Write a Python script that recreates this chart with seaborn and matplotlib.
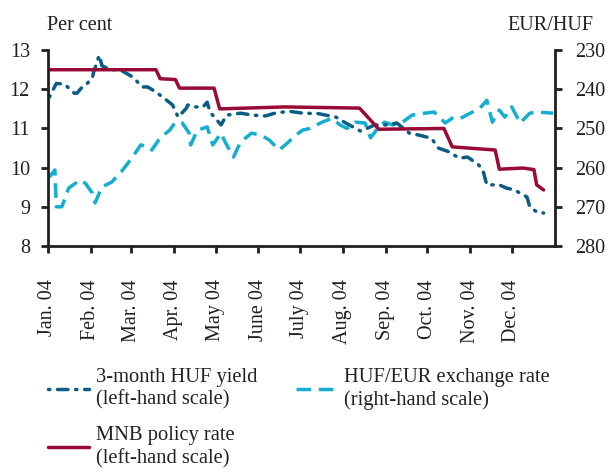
import matplotlib
matplotlib.use("Agg")
import matplotlib.pyplot as plt
import pandas as pd
import seaborn as sns
from matplotlib.lines import Line2D

# 3-month HUF yield (left-hand scale), per cent
yield_dates = [
    "2004-01-02", "2004-01-07", "2004-01-13", "2004-01-20", "2004-01-22", "2004-01-25",
    "2004-01-28", "2004-02-02", "2004-02-03", "2004-02-07", "2004-02-09", "2004-02-13",
    "2004-02-16", "2004-02-22", "2004-02-29", "2004-03-03", "2004-03-09", "2004-03-13",
    "2004-03-19", "2004-03-22", "2004-03-25", "2004-03-31", "2004-04-04", "2004-04-10",
    "2004-04-11", "2004-04-16", "2004-04-22", "2004-04-25", "2004-04-27", "2004-05-05",
    "2004-05-09", "2004-05-19", "2004-05-28", "2004-06-06", "2004-06-13", "2004-06-23",
    "2004-07-03", "2004-07-14", "2004-07-27", "2004-08-03", "2004-08-14", "2004-08-24",
    "2004-09-02", "2004-09-09", "2004-09-18", "2004-09-25", "2004-10-04", "2004-10-09",
    "2004-10-17", "2004-10-24", "2004-10-30", "2004-11-02", "2004-11-07", "2004-11-10",
    "2004-11-13", "2004-11-22", "2004-11-27", "2004-12-03", "2004-12-12", "2004-12-14",
    "2004-12-19", "2004-12-24",
]
yield_values = [
    11.80, 12.15, 12.13, 11.90, 11.90, 12.03,
    12.10, 12.29, 12.44, 12.87, 12.60, 12.54,
    12.50, 12.50, 12.36, 12.29, 12.06, 12.06,
    11.93, 11.85, 11.77, 11.60, 11.29, 11.52,
    11.60, 11.55, 11.55, 11.67, 11.42, 11.09,
    11.34, 11.39, 11.34, 11.32, 11.39, 11.44,
    11.39, 11.38, 11.29, 11.14, 10.93, 11.09,
    11.09, 11.14, 10.88, 10.83, 10.75, 10.50,
    10.40, 10.24, 10.27, 10.20, 10.07, 9.95,
    9.56, 9.56, 9.48, 9.43, 9.25, 9.00,
    8.87, 8.84,
]

# MNB policy rate (left-hand scale), per cent
policy_dates = [
    "2004-01-02", "2004-03-19", "2004-03-22", "2004-04-02", "2004-04-05", "2004-04-30",
    "2004-05-04", "2004-06-20", "2004-08-13", "2004-08-27", "2004-10-13", "2004-10-19",
    "2004-11-19", "2004-11-22", "2004-12-09", "2004-12-17", "2004-12-19", "2004-12-24",
]
policy_values = [
    12.50, 12.50, 12.27, 12.25, 12.03, 12.03,
    11.50, 11.55, 11.52, 10.98, 11.00, 10.53,
    10.45, 9.96, 9.99, 9.95, 9.56, 9.43,
]

# HUF/EUR exchange rate (right-hand scale, inverted)
fx_dates = [
    "2004-01-02", "2004-01-06", "2004-01-07", "2004-01-11", "2004-01-16", "2004-01-24",
    "2004-01-28", "2004-02-02", "2004-02-04", "2004-02-09", "2004-02-16", "2004-02-24",
    "2004-03-02", "2004-03-08", "2004-03-14", "2004-03-16", "2004-03-22", "2004-03-29",
    "2004-04-02", "2004-04-07", "2004-04-12", "2004-04-13", "2004-04-18", "2004-04-25",
    "2004-04-29", "2004-05-05", "2004-05-08", "2004-05-14", "2004-05-19", "2004-05-27",
    "2004-06-03", "2004-06-09", "2004-06-16", "2004-06-22", "2004-06-28", "2004-07-03",
    "2004-07-08", "2004-07-17", "2004-07-24", "2004-07-30", "2004-08-04", "2004-08-10",
    "2004-08-17", "2004-08-21", "2004-08-26", "2004-08-31", "2004-09-06", "2004-09-13",
    "2004-09-20", "2004-09-29", "2004-10-06", "2004-10-08", "2004-10-14", "2004-10-20",
    "2004-10-25", "2004-11-01", "2004-11-08", "2004-11-13", "2004-11-17", "2004-11-22",
    "2004-11-26", "2004-12-01", "2004-12-07", "2004-12-14", "2004-12-19", "2004-12-31",
]
fx_values = [
    262.4, 260.6, 270.0, 270.0, 265.2, 263.2,
    264.0, 266.5, 269.0, 264.9, 263.7, 260.6,
    257.3, 254.2, 254.7, 255.5, 252.4, 250.4,
    248.4, 248.6, 251.2, 254.2, 250.4, 249.6,
    254.2, 251.2, 253.5, 257.3, 253.5, 251.2,
    251.7, 253.0, 255.5, 253.7, 251.7, 250.4,
    250.0, 248.4, 247.4, 249.1, 250.0, 248.4,
    248.6, 252.4, 250.0, 248.4, 249.1, 248.4,
    246.6, 246.1, 245.8, 246.6, 248.6, 247.1,
    247.4, 246.1, 244.8, 242.8, 248.4, 245.3,
    247.1, 244.5, 248.6, 246.1, 245.8, 246.1,
]

month_labels = ["Jan. 04", "Feb. 04", "Mar. 04", "Apr. 04", "May 04", "June 04",
                "July 04", "Aug. 04", "Sep. 04", "Oct. 04", "Nov. 04", "Dec. 04"]

YIELD_COLOR = "#0b5d86"
FX_COLOR = "#13aed0"
POLICY_COLOR = "#9a0a36"
INK = "#231f20"
FS = 14.5

sns.set_style("ticks")
plt.rcParams["font.family"] = ["Liberation Serif", "DejaVu Serif"]
plt.rcParams["font.size"] = FS
plt.rcParams["axes.edgecolor"] = INK
plt.rcParams["xtick.color"] = INK
plt.rcParams["ytick.color"] = INK
plt.rcParams["text.color"] = INK

yield_df = pd.DataFrame({"date": pd.to_datetime(yield_dates), "value": yield_values})
policy_df = pd.DataFrame({"date": pd.to_datetime(policy_dates), "value": policy_values})
fx_df = pd.DataFrame({"date": pd.to_datetime(fx_dates), "value": fx_values})

fig = plt.figure(figsize=(6.09, 4.73), dpi=100)
ax = fig.add_axes([0.0788, 0.48, 0.832, 0.414])
ax2 = ax.twinx()

yield_dash = (0.4, 2.2, 3.0, 2.2)
fx_dash = (4.2, 2.2)
LW = 2.5

sns.lineplot(data=fx_df, x="date", y="value", ax=ax2, color=FX_COLOR, lw=LW)
ax2.lines[-1].set_dashes(fx_dash)
sns.lineplot(data=yield_df, x="date", y="value", ax=ax, color=YIELD_COLOR, lw=LW)
ax.lines[-1].set_dashes(yield_dash)
ax.lines[-1].set_dash_capstyle("round")
sns.lineplot(data=policy_df, x="date", y="value", ax=ax, color=POLICY_COLOR, lw=LW)

ax.set_zorder(ax2.get_zorder() + 1)
ax.patch.set_visible(False)

ax.set_xlim(pd.Timestamp("2004-01-01"), pd.Timestamp("2005-01-01"))
ax.set_ylim(8, 13)
ax.set_yticks(range(8, 14))
ax2.set_ylim(280, 230)
ax2.set_yticks(range(230, 290, 10))

month_ticks = pd.date_range("2004-01-01", periods=12, freq="MS")
ax.set_xticks(month_ticks)
ax.set_xticklabels(month_labels, rotation=90, ha="center", va="top")

for a in (ax, ax2):
    a.set_xlabel("")
    a.set_ylabel("")
    a.spines["top"].set_visible(False)
    for s in a.spines.values():
        s.set_linewidth(2.0)
    a.tick_params(width=2.0, length=5, labelsize=FS, direction="out", pad=8)
ax.tick_params(axis="x", pad=19)
ax2.tick_params(axis="y", pad=10)
ax.spines["right"].set_visible(False)
ax2.spines["left"].set_visible(False)
ax2.spines["bottom"].set_visible(False)

fig.text(0.077, 0.947, "Per cent", fontsize=FS, ha="left", va="center")
fig.text(0.975, 0.947, "EUR/HUF", fontsize=FS, ha="right", va="center")

# column-wise fill: first column yield + policy, second column FX
handles = [
    Line2D([], [], color=YIELD_COLOR, lw=LW, dashes=yield_dash, dash_capstyle="round"),
    Line2D([], [], color=POLICY_COLOR, lw=LW),
    Line2D([], [], color=FX_COLOR, lw=LW, dashes=fx_dash),
]
labels = [
    "3-month HUF yield\n(left-hand scale)",
    "MNB policy rate\n(left-hand scale)",
    "HUF/EUR exchange rate\n(right-hand scale)",
]
leg = fig.legend(handles, labels, loc="upper left", bbox_to_anchor=(0.069, 0.236),
                 ncol=2, frameon=False, fontsize=14.8, handlelength=2.0, handletextpad=0.35,
                 columnspacing=1.85, labelspacing=0.8, borderaxespad=0, borderpad=0.3)
for t in leg.get_texts():
    t.set_linespacing(1.25)

fig.savefig("out.png", dpi=100)
